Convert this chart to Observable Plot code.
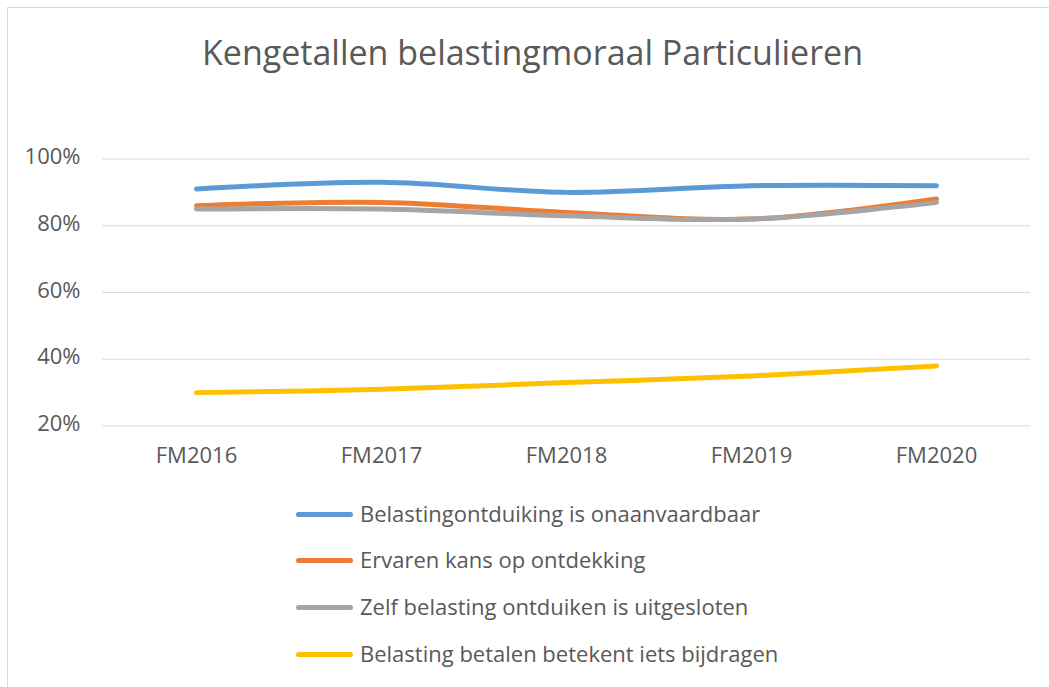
<!DOCTYPE html>
<html>
<head>
<meta charset="utf-8">
<script src="https://cdn.jsdelivr.net/npm/d3@7"></script>
<script src="https://cdn.jsdelivr.net/npm/@observablehq/plot@0.6"></script>
<style>
  html, body { margin: 0; padding: 0; background: #fff; overflow: hidden; width: 1049px; height: 687px; }
  #frame { position: absolute; left: 7px; top: 7px; width: 1100px; height: 720px; border: 1px solid #d9d9d9; box-sizing: border-box; }
  #title { position: absolute; left: 8px; width: 1049px; top: 35px; height: 34px; line-height: 34px; text-align: center;
           font-family: "Open Sans", sans-serif; font-size: 34px; color: #595959; white-space: nowrap; }
  #plot { position: absolute; left: 0; top: 130px; }
  .sw { position: absolute; left: 296px; width: 57px; height: 5px; border-radius: 3px; }
  .lt { position: absolute; left: 360px; font-family: "Open Sans", sans-serif; font-size: 22px; color: #595959; white-space: nowrap; line-height: 24px; }
</style>
</head>
<body>
<div id="frame"></div>
<div id="title"></div>
<div id="plot"></div>
<div id="legend"></div>
<script>
const titleText = "Kengetallen belastingmoraal Particulieren";
const categories = ["FM2016", "FM2017", "FM2018", "FM2019", "FM2020"];
const seriesNames = [
  "Belastingontduiking is onaanvaardbaar",
  "Ervaren kans op ontdekking",
  "Zelf belasting ontduiken is uitgesloten",
  "Belasting betalen betekent iets bijdragen"
];
const onaanvaardbaar = [91, 93, 90, 92, 92];
const ontdekking = [86, 87, 84, 82, 88];
const uitgesloten = [85, 85, 83, 82, 87];
const bijdragen = [30, 31, 33, 35, 38];
const colors = ["#5b9bd5", "#ed7d31", "#a5a5a5", "#ffc000"];
const yTicks = [20, 40, 60, 80, 100];

const seriesValues = [onaanvaardbaar, ontdekking, uitgesloten, bijdragen];
const data = [];
seriesValues.forEach((vals, si) => {
  vals.forEach((v, i) => data.push({series: seriesNames[si], cat: categories[i], value: v}));
});

document.getElementById("title").textContent = titleText;

const chart = Plot.plot({
  width: 1049,
  height: 350,
  marginLeft: 102,
  marginRight: 19,
  marginTop: 28.5,
  marginBottom: 54.5,
  style: {fontFamily: "'Open Sans', sans-serif", fontSize: "22px", color: "#595959", background: "transparent"},
  x: {type: "point", domain: categories, padding: 0.5, label: null},
  y: {domain: [20, 100], label: null},
  color: {domain: seriesNames, range: colors},
  marks: [
    Plot.ruleY(yTicks, {stroke: "#d9d9d9", strokeWidth: 1}),
    Plot.axisX({tickSize: 0, tickPadding: 21, fontSize: 22, fill: "#595959", label: null}),
    Plot.axisY({ticks: yTicks, tickSize: 0, tickPadding: 22, fontSize: 22, fill: "#595959", tickFormat: d => d + "%", label: null, dy: -2}),
    Plot.line(data, {x: "cat", y: "value", z: "series", stroke: "series", strokeWidth: 5, curve: "catmull-rom", strokeLinecap: "round", strokeLinejoin: "round"})
  ]
});
document.getElementById("plot").appendChild(chart);

const legendRows = [514, 560, 607, 654];
const legend = document.getElementById("legend");
seriesNames.forEach((name, i) => {
  const sw = document.createElement("div");
  sw.className = "sw";
  sw.style.top = (legendRows[i] - 2.5) + "px";
  sw.style.background = colors[i];
  legend.appendChild(sw);
  const t = document.createElement("div");
  t.className = "lt";
  t.style.top = (legendRows[i] - 13) + "px";
  t.textContent = name;
  legend.appendChild(t);
});
</script>
</body>
</html>
